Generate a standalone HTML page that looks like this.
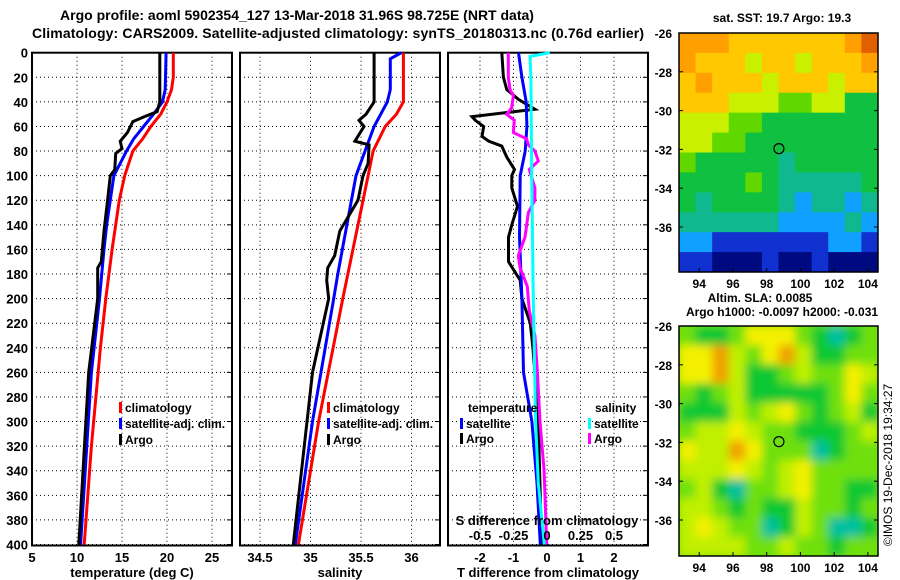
<!DOCTYPE html>
<html><head><meta charset="utf-8"><style>
html,body{margin:0;padding:0;background:#fff;}
svg{display:block;font-family:"Liberation Sans",sans-serif;font-weight:bold;}
</style></head><body>
<svg id="fig" width="900" height="580" viewBox="0 0 900 580" xmlns="http://www.w3.org/2000/svg">
<text x="297" y="20" font-size="14" text-anchor="middle">Argo profile: aoml 5902354_127 13-Mar-2018 31.96S 98.725E (NRT data)</text>
<text x="338" y="38" font-size="14" text-anchor="middle" textLength="612">Climatology: CARS2009. Satellite-adjusted climatology: synTS_20180313.nc (0.76d earlier)</text>
<text x="782" y="22" font-size="12" text-anchor="middle">sat. SST: 19.7 Argo: 19.3</text>
<text x="760" y="302" font-size="12" text-anchor="middle">Altim. SLA: 0.0085</text>
<text x="782" y="316" font-size="12" text-anchor="middle">Argo h1000: -0.0097 h2000: -0.031</text>
<text transform="translate(892,465) rotate(-90)" font-size="12" font-weight="normal" text-anchor="middle">©IMOS 19-Dec-2018 19:34:27</text>
<g id="plots"></g>
</svg>
<script>
// ---- profile data ----
const depthTc = [0,20,30,40,50,60,70,80,100,120,160,200,240,280,320,360,400];
const tempClim = [20.7,20.7,20.5,20.0,19.3,18.2,17.3,16.2,15.3,14.7,13.9,13.2,12.6,12.1,11.6,11.2,10.8];
const depthTs = [0,30,40,50,60,70,80,100,120,140,160,200,260,400];
const tempSat = [19.9,19.8,19.5,18.5,17.4,16.3,15.5,14.1,13.7,13.3,13.0,12.5,11.6,10.4];
const depthTa = [0,40,48,52,56,65,72,78,82,95,100,120,145,170,175,200,260,400];
const tempArgo = [19.2,19.2,18.9,17.5,16.2,15.6,14.8,15.0,14.3,14.2,13.7,13.4,13.0,12.7,12.3,12.3,11.3,10.2];

const depthSc = [0,40,50,60,80,100,140,200,300,400];
const salClim = [35.92,35.92,35.85,35.74,35.62,35.57,35.47,35.32,35.08,34.88];
const depthSs = [0,5,30,40,60,80,100,140,180,200,300,400];
const salSat = [35.9,35.79,35.79,35.76,35.63,35.54,35.45,35.36,35.27,35.23,35.02,34.85];
const depthSa = [0,40,50,55,60,72,75,90,100,120,145,165,175,185,200,260,400];
const salArgo = [35.63,35.63,35.55,35.48,35.53,35.44,35.58,35.57,35.52,35.47,35.29,35.24,35.17,35.16,35.18,35.02,34.83];

const depthDt = [0,20,40,60,80,100,150,200,260,300,350,400];
const dTsat = [-0.85,-0.75,-0.62,-0.6,-0.65,-0.8,-0.82,-0.75,-0.7,-0.45,-0.3,-0.2];
const depthDta = [0,20,30,38,46,48,52,55,60,68,72,76,85,95,100,110,125,140,150,170,185,200,220,240,260,300,400];
const dTargo = [-1.35,-1.3,-1.2,-0.85,-0.36,-1.0,-2.24,-2.14,-1.89,-1.94,-1.74,-1.35,-1.2,-0.97,-1.05,-1.05,-0.88,-1.05,-1.15,-1.15,-0.8,-0.75,-0.5,-0.42,-0.36,-0.26,-0.16];
const depthDs = [0,3,20,100,200,300,350,400];
const dSsat = [0.022,-0.127,-0.12,-0.114,-0.102,-0.085,-0.065,-0.02];
const depthDsa = [0,20,30,35,45,50,55,65,70,75,80,88,95,110,120,130,150,165,175,190,210,230,260,300,340,400];
const dSargo = [-0.289,-0.289,-0.276,-0.251,-0.264,-0.301,-0.244,-0.251,-0.152,-0.139,-0.09,-0.065,-0.132,-0.09,-0.09,-0.139,-0.164,-0.214,-0.201,-0.147,-0.132,-0.09,-0.072,-0.052,-0.022,-0.002];

const depthTicks = [0,20,40,60,80,100,120,140,160,180,200,220,240,260,280,300,320,340,360,380,400];
const tTicks = [5,10,15,20,25];
const sTicks = [34.5,35,35.5,36];
const dtTicks = [-2,-1,0,1,2];
const dsTicks = [-0.5,-0.25,0,0.25,0.5];
const dsTickLabels = ['-0.5','-0.25','0','0.25','0.5'];

// ---- map data ----
const sstGrid = [
[8,8,8,7,7,7,7,7,7,7,8,9],
[8,7,7,7,6,7,7,6,7,7,7,8],
[7,8,7,7,7,6,7,7,7,6,7,7],
[7,7,7,6,6,6,5,5,6,6,4,4],
[6,6,6,5,5,4,4,4,4,4,4,4],
[6,6,5,5,4,4,4,4,4,4,4,4],
[5,4,4,4,4,4,3,4,4,4,4,4],
[4,4,4,4,5,4,3,3,3,3,3,4],
[4,3,4,4,4,4,3,2,3,3,2,3],
[3,3,3,3,3,3,2,2,2,2,3,2],
[2,2,1,1,1,1,1,1,1,2,2,1],
[1,1,0,0,0,1,0,0,1,0,0,0]];
const slaGrid = [
[2,1,1,2,4,4,4,2,1,0,1,2],
[4,4,5,3,2,4,5,3,1,1,2,2],
[4,4,5,3,1,1,2,3,2,2,4,3],
[2,1,2,3,1,1,1,1,1,2,4,2],
[1,1,1,3,2,3,4,2,1,2,3,1],
[2,3,3,4,3,2,2,1,1,1,2,3],
[4,3,3,5,4,2,2,2,0,1,2,2],
[3,3,3,4,3,2,3,4,2,2,2,2],
[2,3,1,0,2,2,3,4,2,2,1,1],
[3,3,2,1,2,1,1,3,2,2,1,2],
[3,4,3,2,2,0,1,3,2,0,0,1],
[3,3,3,3,2,2,3,2,2,1,2,2]];
const latTicks = [-26,-28,-30,-32,-34,-36];
const lonTicks = [94,96,98,100,102,104];
const argoLon = 98.725, argoLat = -31.96;

const NS='http://www.w3.org/2000/svg';
const root=document.getElementById('plots');
function el(tag,attrs,parent){const e=document.createElementNS(NS,tag);for(const k in attrs)e.setAttribute(k,attrs[k]);(parent||root).appendChild(e);return e;}

const Y0=52.7, Y1=544.5;
const yD=d=>Y0+(Y1-Y0)*d/400;
const panels=[
 {name:'temperature-panel',x0:32,x1:232,vmin:5,vmax:5+200/9},
 {name:'salinity-panel',x0:240,x1:440,vmin:34.5-20/101,vmax:34.5+180/101},
 {name:'difference-panel',x0:448,x1:648,vmin:-2-32/33.5,vmax:-2+168/33.5}
];
function xs(p,v){return p.x0+(v-p.vmin)/(p.vmax-p.vmin)*(p.x1-p.x0);}
function xsS(p,v){return xs(p,v*4);}

panels.forEach((p,i)=>{
 const g=el('g',{});
 
 
 depthTicks.forEach(d=>{
  const l=el('line',{x1:p.x0,x2:p.x1,y1:yD(d),y2:yD(d),stroke:'#000','stroke-width':1,'stroke-dasharray':'1,3'},g);
  
  
  const t=el('line',{x1:p.x1-5,x2:p.x1,y1:yD(d),y2:yD(d),stroke:'#000'},g);
  
  
  if(i===0){
   const tx=el('text',{x:28,y:yD(d)+5,'font-size':13,'text-anchor':'end'},g);
   tx.textContent=d;
   
   
  }
 });
 const ticks=i===0?tTicks:i===1?sTicks:dtTicks;
 ticks.forEach(v=>{
  const x=xs(p,v);
  const l=el('line',{x1:x,x2:x,y1:Y0,y2:Y1,stroke:'#000','stroke-dasharray':'1,3'},g);
  
  
  const tx=el('text',{x:x,y:562,'font-size':13,'text-anchor':'middle'},g);
  tx.textContent=v;
  
  
 });
 const fr=el('rect',{x:p.x0,y:Y0,width:p.x1-p.x0,height:Y1-Y0+1,fill:'none',stroke:'#000','stroke-width':2},g);
 
 
});

function line(p,ds,vs,color,name,sal){
 const pts=ds.map((d,k)=>(sal?xsS(p,vs[k]):xs(p,vs[k])).toFixed(1)+','+yD(d).toFixed(1)).join(' ');
 const pl=el('polyline',{points:pts,fill:'none',stroke:color,'stroke-width':3,'stroke-linejoin':'miter'});
 
 
}
const P=panels;
line(P[0],depthTc,tempClim,'#ff0000','temp-climatology-line');
line(P[0],depthTs,tempSat,'#0000ff','temp-satellite-line');
line(P[0],depthTa,tempArgo,'#000000','temp-argo-line');
line(P[1],depthSc,salClim,'#ff0000','sal-climatology-line');
line(P[1],depthSs,salSat,'#0000ff','sal-satellite-line');
line(P[1],depthSa,salArgo,'#000000','sal-argo-line');
line(P[2],depthDta,dTargo,'#000000','dT-argo-line');
line(P[2],depthDt,dTsat,'#0000ff','dT-satellite-line');
line(P[2],depthDsa,dSargo,'#ff00ff','dS-argo-line',true);
line(P[2],depthDs,dSsat,'#00ffff','dS-satellite-line',true);

dsTicks.forEach((v,k)=>{
 const tx=el('text',{x:xsS(P[2],v),y:540,'font-size':13,'text-anchor':'middle'});
 tx.textContent=dsTickLabels[k];
 
 
});
function txt(x,y,s,name,anchor,size){const t=el('text',{x:x,y:y,'font-size':size||13,'text-anchor':anchor||'start'});t.textContent=s;return t;}
txt(547,525,'S difference from climatology','s-diff-axis-title','middle');
txt(132,577,'temperature (deg C)','x-axis-title-temperature','middle');
txt(340,577,'salinity','x-axis-title-salinity','middle');
txt(548,577,'T difference from climatology','x-axis-title-diff','middle');

function legend(x,y,color,label,name){
 const r=el('rect',{x:x,y:y-10,width:3,height:11,fill:color});
 
 
 txt(x+6,y,label,name,'start',12);
}
legend(119,412,'#ff0000','climatology','legend-climatology');
legend(119,428,'#0000ff','satellite-adj. clim.','legend-satellite-temp');
legend(119,444,'#000000','Argo','legend-argo-temp');
legend(327,412,'#ff0000','climatology','legend-climatology-sal');
legend(327,428,'#0000ff','satellite-adj. clim.','legend-satellite-sal');
legend(327,444,'#000000','Argo','legend-argo-sal');
txt(468,412,'temperature','legend-temperature-header','start',12);
legend(460,428,'#0000ff','satellite','legend-dT-satellite');
legend(460,443,'#000000','Argo','legend-dT-argo');
txt(595,412,'salinity','legend-salinity-header','start',12);
legend(588,428,'#00ffff','satellite','legend-dS-satellite');
legend(588,443,'#ff00ff','Argo','legend-dS-argo');

// ---- maps ----
const sstColors=['#000a80','#1030d0','#10a0ff','#10b890','#10c040','#60d800','#c8f000','#ffc800','#ffa000','#e06000'];
const slaColors=['#00c0a0','#10c830','#70e010','#c0f000','#f4f000','#f0a000'];
const MX0=679, MX1=878, LON0=92.8, LON1=104.6;
const mx=lon=>MX0+(lon-LON0)/(LON1-LON0)*(MX1-MX0);
function drawMap(name,top,bottom,grid,colors,blur){
 const my=lat=>top+(-26-lat)*19.4;
 const g=el('g',{});
 
 
 const cid=name+'-clip';
 const defs=el('defs',{},g);
 const cp=el('clipPath',{id:cid},defs);
 el('rect',{x:MX0,y:top,width:MX1-MX0,height:bottom-top},cp);
 if(blur){const f=el('filter',{id:name+'-blur',x:'-10%',y:'-10%',width:'120%',height:'120%'},defs);el('feGaussianBlur',{stdDeviation:4.5},f);}
 const cells=el('g',{'clip-path':'url(#'+cid+')'},g);
 const inner=el('g',blur?{filter:'url(#'+name+'-blur)'}:{},cells);
 const rows=grid.length, cols=grid[0].length;
 const cw=(MX1-MX0)/cols, ch=(bottom-top)/rows;
 if(blur) el('rect',{x:MX0-20,y:top-20,width:MX1-MX0+40,height:bottom-top+40,fill:colors[2]},inner);
 grid.forEach((row,r)=>row.forEach((v,c)=>{
  const re=el('rect',{x:MX0+c*cw,y:top+r*ch,width:cw+0.5,height:ch+0.5,fill:colors[v]},inner);
  
  
 }));
 const fr=el('rect',{x:MX0,y:top,width:MX1-MX0,height:bottom-top,fill:'none',stroke:'#000','stroke-width':1.5},g);
 
 
 latTicks.forEach(l=>{
  el('line',{x1:MX0,x2:MX0+4,y1:my(l),y2:my(l),stroke:'#000'},g);
  el('line',{x1:MX1-4,x2:MX1,y1:my(l),y2:my(l),stroke:'#000'},g);
  g.appendChild(txt(672,my(l)+5,l,'lat-tick-label','end',12));
 });
 lonTicks.forEach(l=>{
  el('line',{x1:mx(l),x2:mx(l),y1:bottom-4,y2:bottom,stroke:'#000'},g);
  g.appendChild(txt(mx(l),bottom+16,l,'lon-tick-label','middle',12));
 });
 const m=el('ellipse',{cx:mx(argoLon),cy:my(argoLat),rx:5,ry:5,fill:'none',stroke:'#000','stroke-width':1.2},g);
 
 
}
drawMap('sst-map',33,272,sstGrid,sstColors,false);
drawMap('sla-map',326,556,slaGrid,slaColors,true);
</script>
</body></html>
